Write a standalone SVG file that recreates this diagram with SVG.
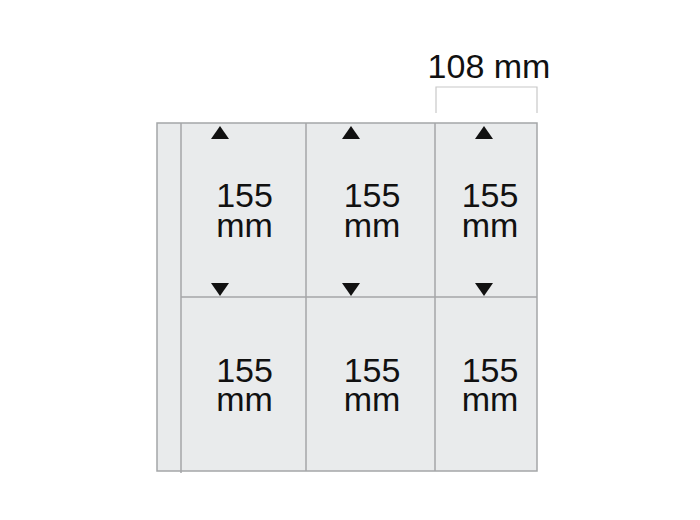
<svg xmlns="http://www.w3.org/2000/svg" width="700" height="520" viewBox="0 0 700 520">
<style>
.cell{fill:#e9ebec;stroke:#a4a6a8;stroke-width:1.5}
.line{stroke:#a4a6a8;stroke-width:1.5;fill:none}
.tri{fill:#111}
.t{font-family:"Liberation Sans",Arial,sans-serif;font-size:34px;fill:#111;text-anchor:middle}
.dim{font-family:"Liberation Sans",Arial,sans-serif;font-size:34px;fill:#111;text-anchor:middle}
</style>
<rect width="700" height="520" fill="#fff"/>
<g id="sheet">
<rect class="cell" x="157" y="123" width="380" height="348"/>
<line class="line" x1="181" y1="123" x2="181" y2="473"/>
<line class="line" x1="306" y1="123" x2="306" y2="471"/>
<line class="line" x1="435" y1="123" x2="435" y2="471"/>
<line class="line" x1="181" y1="297" x2="537" y2="297"/>
</g>
<g id="dimension">
<polyline points="436,113 436,87 537,87 537,113" fill="none" stroke="#c8c8c8" stroke-width="1.2"/>
<text class="dim" x="489" y="78">108 mm</text>
</g>
<g id="arrows">
<polygon class="tri" points="211,139 229,139 220,126"/>
<polygon class="tri" points="342,139 360,139 351,126"/>
<polygon class="tri" points="475,139 493,139 484,126"/>
<polygon class="tri" points="211,283 229,283 220,296"/>
<polygon class="tri" points="342,283 360,283 351,296"/>
<polygon class="tri" points="475,283 493,283 484,296"/>
</g>
<g id="labels">
<text class="t" x="244.5" y="207">155</text><text class="t" x="244.5" y="237">mm</text>
<text class="t" x="372" y="207">155</text><text class="t" x="372" y="237">mm</text>
<text class="t" x="490" y="207">155</text><text class="t" x="490" y="237">mm</text>
<text class="t" x="244.5" y="382">155</text><text class="t" x="244.5" y="411">mm</text>
<text class="t" x="372" y="382">155</text><text class="t" x="372" y="411">mm</text>
<text class="t" x="490" y="382">155</text><text class="t" x="490" y="411">mm</text>
</g>
</svg>
